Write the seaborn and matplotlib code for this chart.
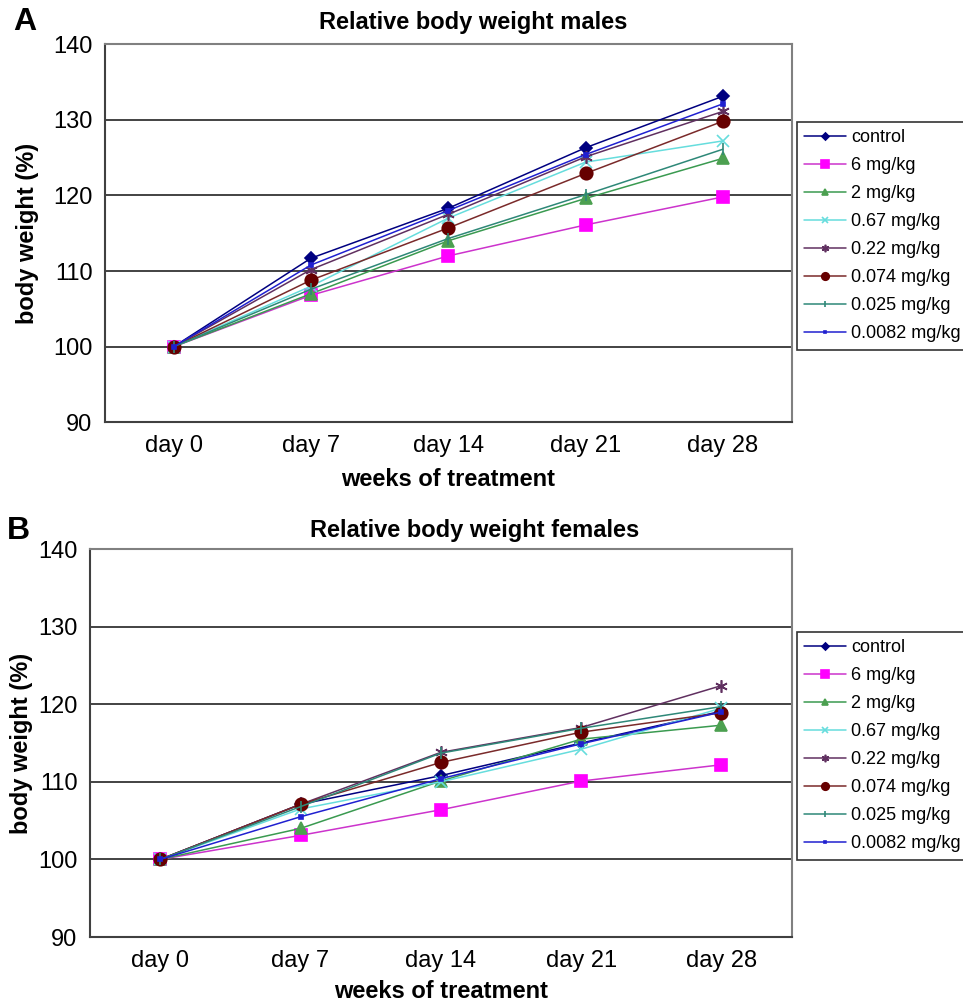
import numpy as np
import pandas as pd
import matplotlib
matplotlib.use("Agg")
import matplotlib.pyplot as plt
import seaborn as sns
from matplotlib.ticker import FixedLocator

sns.set_theme(style="white")
plt.rcParams['font.family'] = ['Liberation Sans', 'DejaVu Sans']
plt.rcParams['text.color'] = 'black'
plt.rcParams['axes.labelcolor'] = 'black'
plt.rcParams['xtick.color'] = 'black'
plt.rcParams['ytick.color'] = 'black'

days = ["day 0", "day 7", "day 14", "day 21", "day 28"]
groups = ["control", "6 mg/kg", "2 mg/kg", "0.67 mg/kg", "0.22 mg/kg",
          "0.074 mg/kg", "0.025 mg/kg", "0.0082 mg/kg"]

males_control = [100, 111.7, 118.3, 126.3, 133.1]
males_6 = [100, 106.8, 112.0, 116.1, 119.8]
males_2 = [100, 107.0, 114.0, 119.6, 124.9]
males_067 = [100, 108.0, 117.0, 124.4, 127.2]
males_022 = [100, 110.2, 117.5, 125.1, 131.1]
males_0074 = [100, 108.8, 115.7, 122.9, 129.8]
males_0025 = [100, 107.6, 114.3, 120.1, 126.1]
males_00082 = [100, 110.8, 118.0, 125.4, 132.1]

females_control = [100, 107.1, 110.8, 115.0, 119.1]
females_6 = [100, 103.1, 106.4, 110.1, 112.2]
females_2 = [100, 104.0, 110.1, 115.5, 117.3]
females_067 = [100, 106.5, 110.0, 114.2, 119.5]
females_022 = [100, 107.1, 113.8, 117.0, 122.4]
females_0074 = [100, 107.1, 112.5, 116.4, 118.9]
females_0025 = [100, 106.8, 113.7, 116.9, 119.7]
females_00082 = [100, 105.5, 110.4, 114.9, 119.0]

male_series = [males_control, males_6, males_2, males_067, males_022,
               males_0074, males_0025, males_00082]
female_series = [females_control, females_6, females_2, females_067, females_022,
                 females_0074, females_0025, females_00082]

line_colors = ["#000080", "#CC33CC", "#3A9A50", "#66DDDD", "#603060",
               "#7A2A2A", "#2E8878", "#2020D0"]
marker_colors = ["#000080", "#FF00FF", "#4CA050", "#66DDDD", "#603060",
                 "#660000", "#2E8878", "#2020D0"]
markers = ["D", "s", "^", "x", (6, 2, 0), "o", "|", "s"]
msizes = [6, 9, 8, 8, 9, 9, 8, 3.5]


def make_df(series):
    rows = []
    for g, vals in zip(groups, series):
        for i, v in enumerate(vals):
            rows.append({"group": g, "day": i, "value": v})
    return pd.DataFrame(rows)


fig = plt.figure(figsize=(9.63, 10.01), dpi=100)

panels = [
    (male_series, [0.109, 0.578, 0.713, 0.378], "Relative body weight males", "A",
     (25 / 963, 1 - 22 / 1001), (473 / 963, 1 - 22 / 1001), (797 / 963, 1 - 122 / 1001), 8, 10),
    (female_series, [0.0935, 0.0639, 0.7285, 0.3876], "Relative body weight females", "B",
     (18 / 963, 1 - 531 / 1001), (475 / 963, 1 - 530 / 1001), (797 / 963, 1 - 632 / 1001), 6, 4),
]

for series, rect, title, letter, lpos, tpos, legpos, xpad, ypad in panels:
    ax = fig.add_axes(rect)
    df = make_df(series)
    for k, g in enumerate(groups):
        sub = df[df["group"] == g]
        sns.lineplot(data=sub, x="day", y="value", ax=ax, color=line_colors[k],
                     marker=markers[k], markersize=msizes[k],
                     markerfacecolor=marker_colors[k], markeredgecolor=marker_colors[k],
                     markeredgewidth=1.2, linewidth=1.1, label=g, legend=False)
    ax.set_xlim(-0.5, 4.5)
    ax.set_ylim(90, 140)
    ax.set_xticks(range(5))
    ax.set_xticklabels(days)
    ax.xaxis.set_minor_locator(FixedLocator([-0.5, 0.5, 1.5, 2.5, 3.5, 4.5]))
    ax.set_yticks([90, 100, 110, 120, 130, 140])
    ax.tick_params(axis="x", which="major", length=0, labelsize=17, pad=9, labelcolor="black")
    ax.tick_params(axis="x", which="minor", length=5, width=1, color="#808080", direction="out")
    ax.tick_params(axis="y", which="major", length=5, width=1, color="#808080", direction="out",
                   labelsize=17, pad=4, labelcolor="black")
    for y in [100, 110, 120, 130]:
        ax.axhline(y, color="#222222", linewidth=1.2, zorder=0)
    for side in ["top", "right"]:
        ax.spines[side].set_color("#808080")
        ax.spines[side].set_linewidth(1.5)
    ax.spines["left"].set_color("#404040")
    ax.spines["left"].set_linewidth(1.5)
    ax.spines["bottom"].set_color("#404040")
    ax.spines["bottom"].set_linewidth(1.5)
    ax.set_xlabel("weeks of treatment", fontsize=17, fontweight="bold", labelpad=xpad, color="black")
    ax.set_ylabel("body weight (%)", fontsize=17, fontweight="bold", labelpad=ypad, color="black")
    fig.text(tpos[0], tpos[1], title, ha="center", va="center", fontsize=17,
             fontweight="bold", color="black")
    fig.text(lpos[0], lpos[1], letter, ha="center", va="center", fontsize=23,
             fontweight="bold", color="black")

    h = ax.get_lines()[:len(groups)]
    leg = fig.legend(h, groups, loc="upper left", bbox_to_anchor=legpos,
                     frameon=True, fancybox=False, edgecolor="black", fontsize=13,
                     handlelength=2.3, handletextpad=0.3, labelspacing=0.61,
                     borderpad=0.4, borderaxespad=0, markerscale=0.6)
    leg.get_frame().set_linewidth(1.2)
    for t in leg.get_texts():
        t.set_color("black")

fig.savefig("out.png", dpi=100, facecolor="white")
